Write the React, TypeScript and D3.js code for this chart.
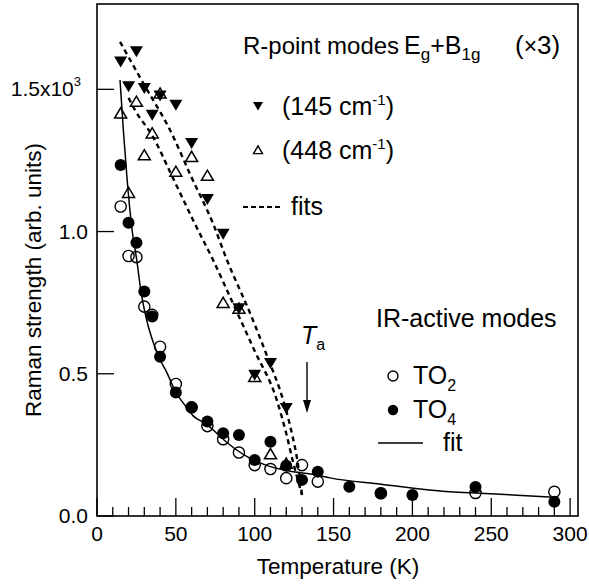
import React from "react";
import * as d3 from "d3";

// R-point modes (x3)
const tempR = [15, 20, 25, 30, 35, 40, 50, 60, 70, 80, 90, 100, 110, 120];
const mode145 = [1597, 1510, 1633, 1504, 1410, 1478, 1445, 1311, 1114, 992, 730, 496, 537, 379];
const mode448 = [1416, 1137, 1457, 1269, 1346, 1486, 1211, 1263, 1197, 750, 730, 490, 218, 185];

// IR-active modes
const tempTO2 = [15, 20, 25, 30, 35, 40, 50, 60, 70, 80, 90, 100, 110, 120, 130, 140, 180, 240, 290];
const to2 = [1088, 914, 910, 736, 707, 595, 464, 382, 316, 270, 223, 179, 165, 133, 179, 121, 80, 81, 85];
const tempTO4 = [15, 20, 25, 30, 35, 40, 50, 60, 70, 80, 90, 100, 110, 120, 130, 140, 160, 180, 200, 240, 290];
const to4 = [1234, 1031, 961, 789, 701, 560, 434, 382, 332, 291, 285, 197, 261, 177, 127, 156, 103, 80, 74, 102, 50];

// fit curves
const fit145T = [14.6, 30, 46.3, 60, 73.6, 82.4, 97, 108, 118, 124, 127, 130];
const fit145V = [1667, 1515, 1357, 1190, 1028, 900, 714, 560, 408, 280, 197, 74];
const fit448T = [20, 24, 35.5, 48, 62, 73.6, 86, 100, 114, 120, 124, 130];
const fit448V = [1470, 1428, 1333, 1190, 1028, 900, 750, 580, 408, 290, 197, 74];
const fitIRT = [14.6, 16.7, 19, 22, 25.2, 28, 31.5, 36, 40, 44.2, 50.5, 55, 61, 69.6, 80, 88.6, 97, 107.6, 120, 139.3, 147.7, 180, 223.8, 243, 290];
const fitIRV = [1533, 1357, 1190, 1017, 900, 785, 689, 605, 550, 505, 430, 395, 352, 322, 270, 232, 203, 178, 160, 144, 134, 112, 85, 80, 66];

const xMajor = [0, 50, 100, 150, 200, 250, 300];
const xMinor = d3.range(0, 301, 10);
const yMajor = [0, 500, 1000, 1500];
const yLabels = ["0.0", "0.5", "1.0", "1.5x10"];

const FONT = "'Liberation Sans', Arial, sans-serif";

export default function App() {
  const x = d3.scaleLinear().domain([0, 305]).range([97, 578]);
  const y = d3.scaleLinear().domain([0, 1800]).range([516, 4]);

  const line = (ts: number[], vs: number[]) =>
    d3.line<number>().x((_, i) => x(ts[i])).y((v) => y(v)).curve(d3.curveMonotoneX)(vs) || "";

  const triDown = (cx: number, cy: number, s: number) =>
    `M${cx - s / 2},${cy - s * 0.4}L${cx + s / 2},${cy - s * 0.4}L${cx},${cy + s * 0.45}Z`;
  const triUp = (cx: number, cy: number, s: number) =>
    `M${cx - s / 2},${cy + s * 0.4}L${cx + s / 2},${cy + s * 0.4}L${cx},${cy - s * 0.45}Z`;

  const AF = 25; // annotation font size

  return (
    <svg width={589} height={587} style={{ position: "absolute", left: 0, top: 0 }} fontFamily={FONT}>
      <rect width={589} height={587} fill="#fff" />
      {/* frame */}
      <rect x={97} y={4} width={481} height={512} fill="none" stroke="#000" strokeWidth={1.6} />
      {/* x ticks */}
      {xMinor.map((t) => (
        <line key={"mx" + t} x1={x(t)} x2={x(t)} y1={516} y2={xMajor.includes(t) ? 498 : 507} stroke="#000" strokeWidth={1.3} />
      ))}
      {xMajor.map((t) => (
        <text key={"lx" + t} x={x(t)} y={541} fontSize={21} textAnchor="middle">{t}</text>
      ))}
      {/* y ticks */}
      {yMajor.map((v, i) => (
        <g key={"y" + v}>
          <line x1={97} x2={114} y1={y(v)} y2={y(v)} stroke="#000" strokeWidth={1.3} />
          {v === 1500 ? (
            <text x={81} y={y(v) + 7} fontSize={21} textAnchor="end">
              {yLabels[i]}
              <tspan dy={-10} fontSize={13}>3</tspan>
            </text>
          ) : (
            <text x={88} y={y(v) + 7} fontSize={21} textAnchor="end">{yLabels[i]}</text>
          )}
        </g>
      ))}
      <text x={338} y={574} fontSize={22.5} textAnchor="middle">Temperature (K)</text>
      <text transform="translate(41,280) rotate(-90)" fontSize={22.5} textAnchor="middle">Raman strength (arb. units)</text>

      {/* fits */}
      <path d={line(fit145T, fit145V)} fill="none" stroke="#000" strokeWidth={2.4} strokeDasharray="5,4" />
      <path d={line(fit448T, fit448V)} fill="none" stroke="#000" strokeWidth={2.4} strokeDasharray="5,4" />
      <path d={line(fitIRT, fitIRV)} fill="none" stroke="#000" strokeWidth={1.5} />

      {/* IR data */}
      {tempTO4.map((t, i) => (
        <circle key={"f" + i} cx={x(t)} cy={y(to4[i])} r={6} fill="#000" />
      ))}
      {tempTO2.map((t, i) => (
        <circle key={"o" + i} cx={x(t)} cy={y(to2[i])} r={5.6} fill="none" stroke="#000" strokeWidth={1.4} />
      ))}
      {/* R-point data */}
      {tempR.map((t, i) => (
        <path key={"d" + i} d={triDown(x(t), y(mode145[i]), 13)} fill="#000" />
      ))}
      {tempR.map((t, i) => (
        <path key={"u" + i} d={triUp(x(t), y(mode448[i]), 12)} fill="none" stroke="#000" strokeWidth={1.5} />
      ))}

      {/* annotations */}
      <text x={243} y={54} fontSize={24}>R-point modes</text>
      <text x={404} y={54} fontSize={25}>
        E<tspan dy={6} fontSize={17}>g</tspan>
        <tspan dy={-6}>+B</tspan>
        <tspan dy={6} fontSize={17}>1g</tspan>
      </text>
      <text x={515} y={54} fontSize={26}>
        (<tspan fontSize={23}>×</tspan>3)
      </text>
      <path d={triDown(258, 106, 10)} fill="#000" />
      <text x={282} y={115} fontSize={AF}>
        (145 cm<tspan dy={-10} fontSize={15}>-1</tspan><tspan dy={10}>)</tspan>
      </text>
      <path d={triUp(258, 150, 9)} fill="none" stroke="#000" strokeWidth={1.4} />
      <text x={282} y={159} fontSize={AF}>
        (448 cm<tspan dy={-10} fontSize={15}>-1</tspan><tspan dy={10}>)</tspan>
      </text>
      <line x1={243} x2={283} y1={207} y2={207} stroke="#000" strokeWidth={2} strokeDasharray="5,3" />
      <text x={291} y={215} fontSize={AF}>fits</text>

      <text x={376} y={327} fontSize={AF}>IR-active modes</text>
      <text x={301} y={344} fontSize={AF} fontStyle="italic">
        T<tspan dy={6} fontSize={16} fontStyle="normal">a</tspan>
      </text>
      <line x1={307} x2={307} y1={362} y2={402} stroke="#000" strokeWidth={1.4} />
      <path d="M303,400L311,400L307,413Z" fill="#000" />

      <circle cx={393} cy={376} r={5} fill="none" stroke="#000" strokeWidth={1.4} />
      <text x={413} y={384} fontSize={AF}>
        TO<tspan dy={7} fontSize={16}>2</tspan>
      </text>
      <circle cx={393} cy={410} r={5.2} fill="#000" />
      <text x={413} y={418} fontSize={AF}>
        TO<tspan dy={7} fontSize={16}>4</tspan>
      </text>
      <line x1={378} x2={423} y1={443} y2={443} stroke="#000" strokeWidth={1.5} />
      <text x={443} y={451} fontSize={AF}>fit</text>
    </svg>
  );
}
